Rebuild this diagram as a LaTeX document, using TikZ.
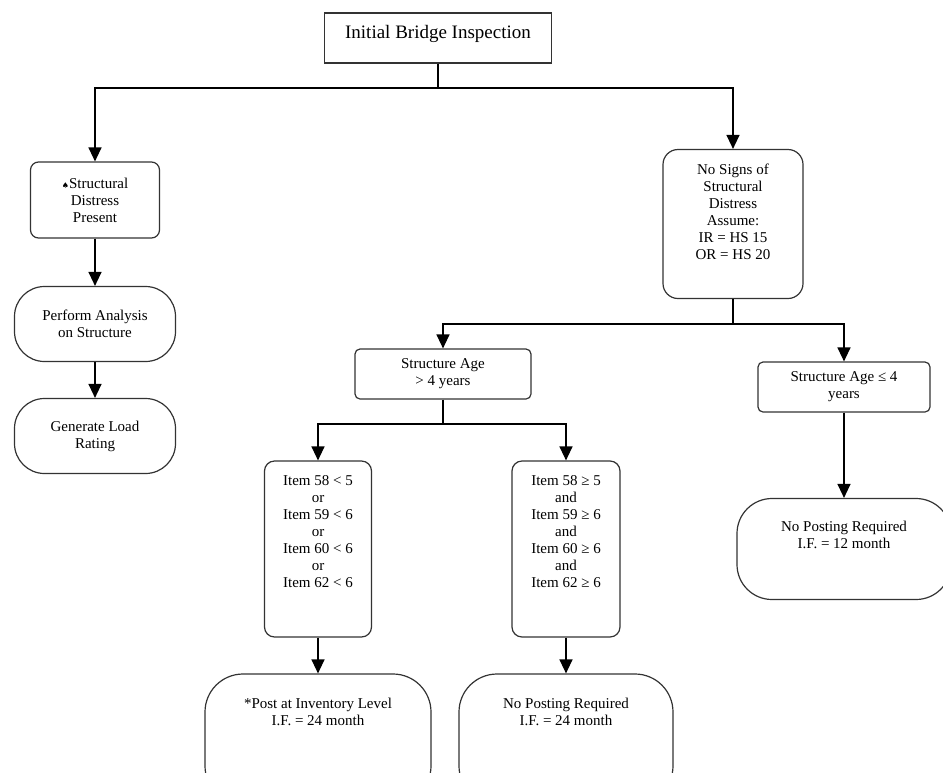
\documentclass[tikz,border=0pt]{standalone}
\usepackage{fontspec}
\setmainfont{Liberation Serif}
\newfontfamily\symfont{DejaVu Sans}
\usetikzlibrary{arrows.meta}
\usetikzlibrary{positioning}

\tikzset{
  flowbox/.style={draw=black!80, line width=1.2pt, inner sep=0pt, align=center, font=\fontsize{15}{17}\selectfont},
  flowtext/.style={inner sep=0pt, align=center, font=\fontsize{15}{17}\selectfont},
  wire/.style={draw=black, line width=1.3pt},
  arr/.style={wire, -{Triangle[length=14pt,width=13pt]}},
}

\begin{document}
\begin{tikzpicture}[x=1pt,y=-1pt]
      \useasboundingbox (0,0) rectangle (943,772);
      \clip (0,0) rectangle (943,772);
      % top of the tree
      \node[flowbox, minimum width=227pt, minimum height=50pt, text depth=12pt, font=\fontsize{19}{22}\selectfont] (init) at (438,38) {Initial Bridge Inspection};
      \coordinate (split1) at (438,88);
      % distress branch
      \begin{scope}[every node/.style={flowbox}]
        \node[rounded corners=8pt, minimum width=129pt, minimum height=76pt] (distress) at (95,200) {{\symfont\fontsize{8}{8}\selectfont ♠}Structural\\Distress\\Present};
        \node[rounded corners=30pt, minimum width=161pt, minimum height=75pt] (analysis) at (95,324) {Perform Analysis\\on Structure};
        \node[rounded corners=30pt, minimum width=161pt, minimum height=75pt] (loadrate) at (95,436) {Generate Load\\Rating};
      \end{scope}
      % no distress branch
      \begin{scope}[every node/.style={flowbox}]
        \node[rounded corners=15pt, minimum width=140pt, minimum height=149pt] (nosigns) at (733,224) {};
        \node[rounded corners=5pt, minimum width=176pt, minimum height=50pt] (ageover) at (443,374) {Structure Age\\> 4 years};
        \node[rounded corners=5pt, minimum width=172pt, minimum height=50pt] (ageunder) at (844,387) {Structure Age ≤ 4\\years};
        \node[rounded corners=10pt, minimum width=107pt, minimum height=176pt] (itemlow) at (318,549) {};
        \node[rounded corners=10pt, minimum width=108pt, minimum height=176pt] (itemhigh) at (566,549) {};
        \node[rounded corners=35pt, minimum width=214pt, minimum height=101pt] (nopost12) at (844,549) {};
        \node[rounded corners=38pt, minimum width=226pt, minimum height=130pt] (post24) at (318,739) {};
        \node[rounded corners=38pt, minimum width=214pt, minimum height=130pt] (nopost24) at (566,739) {};
      \end{scope}
      \coordinate (split2) at (733,324);
      \coordinate (split3) at (443,424);
      % texts set at the top of their boxes
      \begin{scope}[every node/.style={flowtext}]
        \node[below=15pt of nosigns.north] (nosignsText) {No Signs of\\Structural\\Distress\\Assume:\\IR = HS 15\\OR = HS 20};
        \node[below=15pt of itemlow.north] (itemlowText) {Item 58 < 5\\or\\Item 59 < 6\\or\\Item 60 < 6\\or\\Item 62 < 6};
        \node[below=15pt of itemhigh.north] (itemhighText) {Item 58 ≥ 5\\and\\Item 59 ≥ 6\\and\\Item 60 ≥ 6\\and\\Item 62 ≥ 6};
        \node[below=23pt of nopost12.north] (nopost12Text) {No Posting Required\\I.F. = 12 month};
        \node[below=24pt of post24.north] (post24Text) {*Post at Inventory Level\\I.F. = 24 month};
        \node[below=24pt of nopost24.north] (nopost24Text) {No Posting Required\\I.F. = 24 month};
      \end{scope}
      % connectors
      \draw[wire] (init) -- (split1);
      \draw[arr] (split1) -| (distress);
      \draw[arr] (split1) -| (nosigns);
      \draw[arr] (distress) -- (analysis);
      \draw[arr] (analysis) -- (loadrate);
      \draw[wire] (nosigns) -- (split2);
      \draw[arr] (split2) -| (ageover);
      \draw[arr] (split2) -| (ageunder);
      \draw[wire] (ageover) -- (split3);
      \draw[arr] (split3) -| (itemlow);
      \draw[arr] (split3) -| (itemhigh);
      \draw[arr] (ageunder) -- (nopost12);
      \draw[arr] (itemlow) -- (post24);
      \draw[arr] (itemhigh) -- (nopost24);
    \end{tikzpicture}
\end{document}
